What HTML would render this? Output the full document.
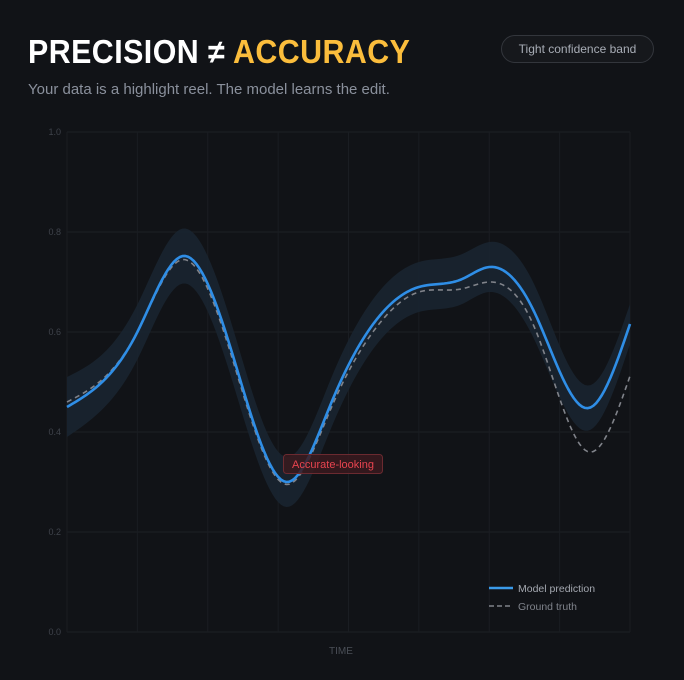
<!DOCTYPE html>
<html><head><meta charset="utf-8">
<style>
html,body{margin:0;padding:0;background:#111317;}
body{width:684px;height:680px;position:relative;overflow:hidden;font-family:"Liberation Sans",sans-serif;}
#title{position:absolute;left:28px;top:33px;font-size:33px;font-weight:900;color:#fff;letter-spacing:0.5px;transform:scaleX(0.92);transform-origin:left;white-space:nowrap;}
#title .acc{color:#fbbd3c;}
#sub{position:absolute;left:28px;top:81px;font-size:15px;color:#8a909c;}
#btn{position:absolute;left:501px;top:35px;width:151px;height:26px;border:1px solid #33363c;border-radius:14px;background:#16181c;color:#a8adb6;font-size:12px;line-height:26px;text-align:center;}
svg{position:absolute;left:0;top:0;}
</style></head><body>
<div id="title">PRECISION ≠ <span class="acc">ACCURACY</span></div>
<div id="sub">Your data is a highlight reel. The model learns the edit.</div>
<div id="btn">Tight confidence band</div>
<svg id="chart" width="684" height="680"></svg>
<script>
const times = [0, .0625, .125, .206, .29, .39, .47, .55, .625, .70, .75, .83, .927, 1];
const prediction = [.45, .50, .60, .752, .57, .30, .46, .625, .69, .705, .73, .64, .448, .616];
const groundTruth = [.46, .505, .60, .745, .56, .295, .45, .61, .68, .686, .70, .61, .36, .512];
const bandHalf = [.06, .055, .055, .055, .055, .05, .05, .05, .05, .05, .05, .055, .045, .04];
const yTicks = [0, 0.2, 0.4, 0.6, 0.8, 1.0];
const xGridCount = 8;

const X0 = 67, X1 = 630, Y0 = 632, Y1 = 132;
const sx = t => X0 + t * (X1 - X0);
const sy = v => Y0 - v * (Y0 - Y1);
const svg = document.getElementById('chart');
const NS = 'http://www.w3.org/2000/svg';
function mk(tag, attrs, parent) {
  const e = document.createElementNS(NS, tag);
  for (const k in attrs) e.setAttribute(k, attrs[k]);
  (parent || svg).appendChild(e);
  return e;
}
// natural cubic spline
function spline(xs, ys) {
  const n = xs.length, h = [], a = [], l = [1], mu = [0], z = [0], c = new Array(n).fill(0), b = [], d = [];
  for (let i = 0; i < n - 1; i++) h[i] = xs[i + 1] - xs[i];
  for (let i = 1; i < n - 1; i++) a[i] = 3 / h[i] * (ys[i + 1] - ys[i]) - 3 / h[i - 1] * (ys[i] - ys[i - 1]);
  for (let i = 1; i < n - 1; i++) {
    l[i] = 2 * (xs[i + 1] - xs[i - 1]) - h[i - 1] * mu[i - 1];
    mu[i] = h[i] / l[i];
    z[i] = (a[i] - h[i - 1] * z[i - 1]) / l[i];
  }
  l[n - 1] = 1; z[n - 1] = 0;
  for (let j = n - 2; j >= 0; j--) {
    c[j] = z[j] - mu[j] * c[j + 1];
    b[j] = (ys[j + 1] - ys[j]) / h[j] - h[j] * (c[j + 1] + 2 * c[j]) / 3;
    d[j] = (c[j + 1] - c[j]) / (3 * h[j]);
  }
  return x => {
    let j = 0;
    while (j < n - 2 && x > xs[j + 1]) j++;
    const dx = x - xs[j];
    return ys[j] + b[j] * dx + c[j] * dx * dx + d[j] * dx * dx * dx;
  };
}
const STEPS = 200;
function samples(f) {
  const pts = [];
  for (let i = 0; i <= STEPS; i++) { const t = i / STEPS; pts.push([sx(t), sy(f(t))]); }
  return pts;
}
const toD = pts => pts.map((p, i) => (i ? 'L' : 'M') + p[0].toFixed(2) + ',' + p[1].toFixed(2)).join('');

yTicks.forEach(v => {
  const l = mk('line', {x1: X0, x2: X1, y1: sy(v), y2: sy(v), stroke: '#1d2026', 'stroke-width': 1});
  
  
  const t = mk('text', {x: X0 - 6, y: sy(v) + 3, 'text-anchor': 'end', fill: '#3f434b', 'font-size': 9, 'font-family': 'Liberation Sans, sans-serif'});
  t.textContent = v.toFixed(1);
  
  
});
for (let i = 0; i <= xGridCount; i++) {
  const x = sx(i / xGridCount);
  const l = mk('line', {x1: x, x2: x, y1: Y1, y2: Y0, stroke: '#1a1d22', 'stroke-width': 1});
  
  
}
const fPred = spline(times, prediction);
const fTruth = spline(times, groundTruth);
const fBand = spline(times, bandHalf);
const upper = samples(t => fPred(t) + fBand(t));
const lower = samples(t => fPred(t) - fBand(t)).reverse();
const band = mk('path', {d: toD(upper.concat(lower)) + 'Z', fill: '#1a2530', opacity: 0.9});


const tp = mk('path', {d: toD(samples(fTruth)), fill: 'none', stroke: '#80838a', 'stroke-width': 1.6, 'stroke-dasharray': '5 4'});


const pp = mk('path', {d: toD(samples(fPred)), fill: 'none', stroke: '#2f8ee6', 'stroke-width': 2.6, 'stroke-linejoin': 'round'});


const ar = mk('rect', {x: 283.5, y: 454.5, width: 99, height: 19, rx: 3, fill: '#3a1a1e', 'fill-opacity': 0.85, stroke: '#6b2a30'});


const at = mk('text', {x: 333, y: 468, 'text-anchor': 'middle', fill: '#e8444f', 'font-size': 11, 'font-family': 'Liberation Sans, sans-serif'});
at.textContent = 'Accurate-looking';


const xt = mk('text', {x: 341, y: 654, 'text-anchor': 'middle', fill: '#4a4e56', 'font-size': 10, 'font-family': 'Liberation Sans, sans-serif'});
xt.textContent = 'TIME';


const lg = mk('g', {});


const l1 = mk('line', {x1: 489, x2: 513, y1: 588, y2: 588, stroke: '#3a9ae8', 'stroke-width': 2.5}, lg);


const t1 = mk('text', {x: 518, y: 592, fill: '#a4a8b0', 'font-size': 10.5, 'font-family': 'Liberation Sans, sans-serif'}, lg);
t1.textContent = 'Model prediction';


const l2 = mk('line', {x1: 489, x2: 513, y1: 606, y2: 606, stroke: '#80838a', 'stroke-width': 1.6, 'stroke-dasharray': '5 3'}, lg);


const t2 = mk('text', {x: 518, y: 610, fill: '#80848c', 'font-size': 10.5, 'font-family': 'Liberation Sans, sans-serif'}, lg);
t2.textContent = 'Ground truth';


</script>
</body></html>
